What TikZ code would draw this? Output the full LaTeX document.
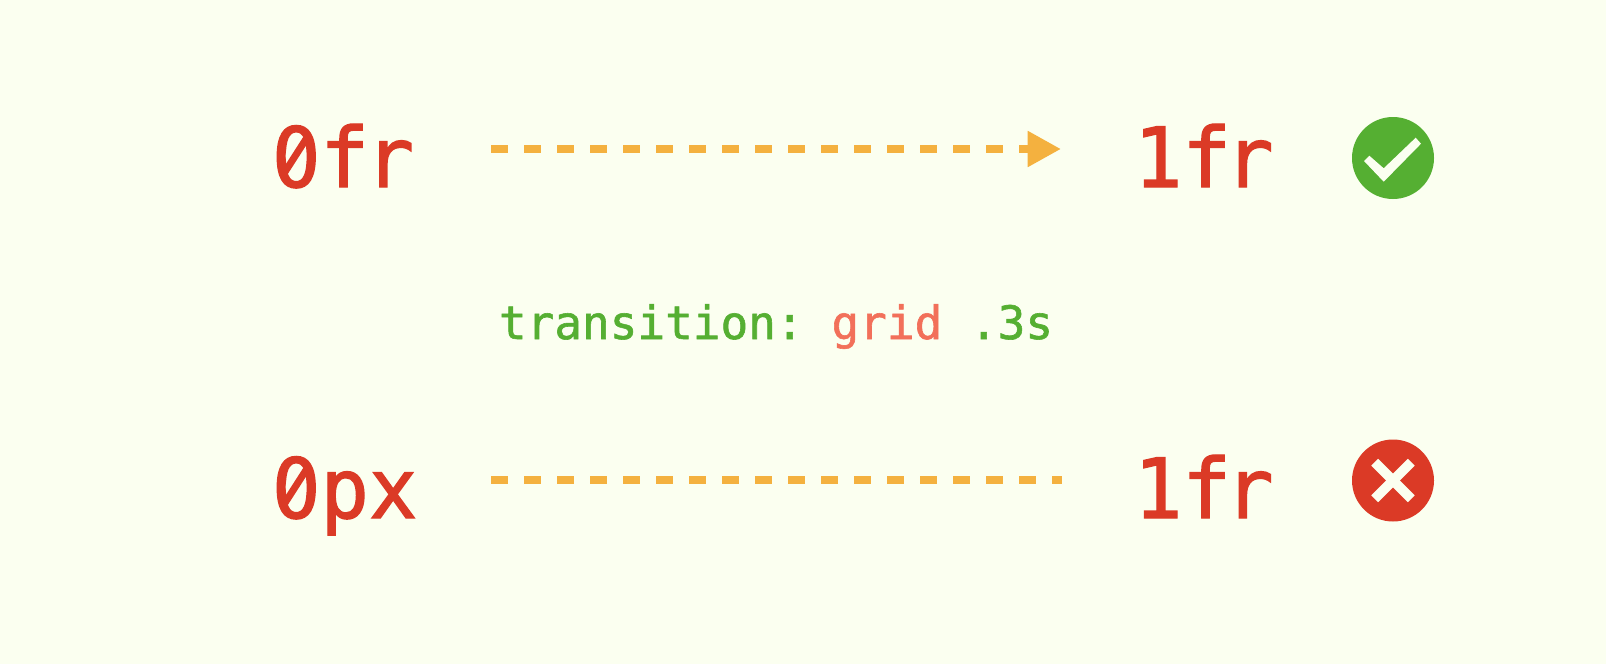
\documentclass[tikz,border=0pt]{standalone}
\usepackage{fontspec}
\usetikzlibrary{arrows.meta}
\newfontfamily\bigmono[RawFeature={embolden=1.6},FakeStretch=0.97]{DejaVu Sans Mono}
\newfontfamily\midmono[RawFeature={embolden=1.3}]{DejaVu Sans Mono}
\definecolor{bgc}{HTML}{FBFFF0}
\definecolor{redc}{HTML}{DB3A26}
\definecolor{greenc}{HTML}{55AF32}
\definecolor{orangec}{HTML}{F4B13F}
\definecolor{coralc}{HTML}{F2705A}
\tikzset{
  big/.style={anchor=base west,inner sep=0pt,outer sep=0pt,text=redc,font=\bigmono\fontsize{83}{83}\selectfont},
  mid/.style={anchor=base west,inner sep=0pt,outer sep=0pt,text=greenc,font=\midmono\fontsize{46}{46}\selectfont},
  dashline/.style={draw=orangec,line width=8pt,dash pattern=on 16.5pt off 16.5pt},
  badge/.style={circle,minimum size=82pt,inner sep=0pt,outer sep=0pt},
  zeromask/.style={fill=bgc},
  zeroslash/.style={draw=redc,line width=7pt},
}
\begin{document}
\begin{tikzpicture}[x=1pt,y=-1pt]
\fill[bgc] (0,0) rectangle (1606,664);
\useasboundingbox (0,0) rectangle (1606,664);
\node[big] (a0) at (272,187) {0f\kern-3.5pt r};
\node[big] (a1) at (1134,187) {1f\kern-6pt r};
\node[big] (b0) at (272,518) {0px};
\node[big] (b1) at (1134,518) {1f\kern-6pt r};
\node[mid] (t) at (499,339) {transition:\kern27.9pt\textcolor{coralc}{grid} .3s};
% slashed zeros
\fill[zeromask] (295.5,156) ellipse (10 and 12);
\draw[zeroslash] (283,175) -- (308,136);
\fill[zeromask] (295.5,487) ellipse (10 and 12);
\draw[zeroslash] (283,506) -- (308,467);
\coordinate (as) at (491,149);
\coordinate (ae) at (1061,149);
\coordinate (bs) at (491,480);
\coordinate (be) at (1062,480);
\draw[dashline,-{Triangle[length=33.3pt,width=34pt,fill=orangec]}] (as) -- (ae);
\draw[dashline] (bs) -- (be);
\node[badge,fill=greenc] (ok) at (1393,158) {};
\node[badge,fill=redc] (no) at (1393,480.5) {};
\fill[bgc] (1364,161) -- (1369.3,155.7) -- (1383.7,168.3) -- (1415.7,137.7) -- (1421,143.7) -- (1383.7,181.7) -- cycle;
\draw[bgc,line width=9.7pt] (1374.7,462.2) -- (1411.3,498.8);
\draw[bgc,line width=9.7pt] (1411.3,462.2) -- (1374.7,498.8);
\end{tikzpicture}
\end{document}
